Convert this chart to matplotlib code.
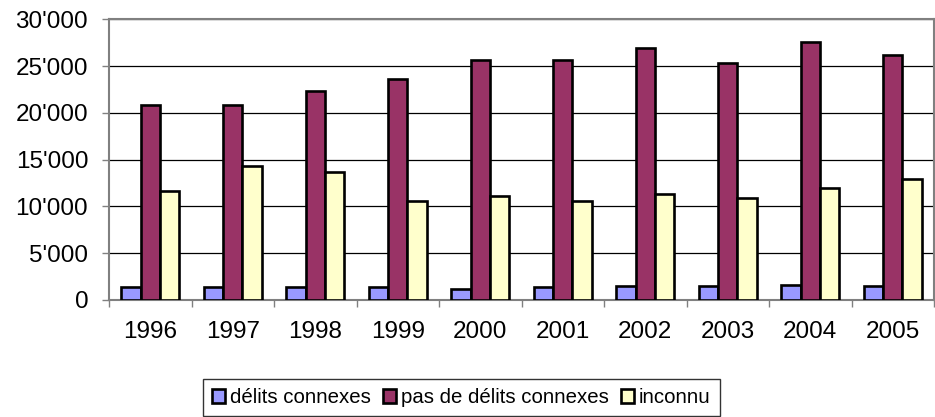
import numpy as np
import matplotlib.pyplot as plt
from matplotlib.ticker import FuncFormatter

plt.rcParams['font.family'] = ['Liberation Sans', 'DejaVu Sans']

# data
years = ['1996', '1997', '1998', '1999', '2000', '2001', '2002', '2003', '2004', '2005']
connexes = [1350, 1420, 1350, 1420, 1220, 1420, 1460, 1460, 1640, 1530]
pas_connexes = [20850, 20850, 22300, 23650, 25700, 25650, 27000, 25300, 27600, 26180]
inconnu = [11680, 14280, 13650, 10580, 11070, 10580, 11390, 10960, 11960, 12930]

labels = ['délits connexes', 'pas de délits connexes', 'inconnu']
colors = ['#9999FF', '#993366', '#FFFFCC']

fig = plt.figure(figsize=(9.35, 4.17), dpi=100)
ax = fig.add_axes([109 / 935, 1 - 300 / 417, 825 / 935, 280.5 / 417])

x = np.arange(len(years))
w = 0.235
for j, (vals, lab, col) in enumerate(zip([connexes, pas_connexes, inconnu], labels, colors)):
    ax.bar(x + (j - 1) * w, vals, width=w, color=col, edgecolor='black',
           linewidth=1.9, label=lab, zorder=3)

ax.set_xlim(-0.5, len(years) - 0.5)
ax.set_ylim(0, 30000)
ax.set_yticks(np.arange(0, 30001, 5000))
ax.yaxis.set_major_formatter(FuncFormatter(lambda v, p: f"{int(v):,}".replace(',', "'")))
ax.yaxis.grid(True, color='black', linewidth=0.9, zorder=0)
ax.set_axisbelow(True)

ax.set_xticks(x)
ax.set_xticklabels(years)
ax.set_xticks(np.arange(-0.5, len(years)), minor=True)
ax.tick_params(axis='x', which='major', length=0, pad=15, labelsize=17.5)
ax.tick_params(axis='x', which='minor', length=5, width=1, color='#808080')
ax.tick_params(axis='y', length=5, width=1, color='#808080', pad=10, labelsize=17.5)

for s in ax.spines.values():
    s.set_color('#808080')
    s.set_linewidth(1.5)

fig.legend(loc='upper left', bbox_to_anchor=(203 / 935, 1 - 379 / 417), ncol=3,
           frameon=True, fancybox=False, edgecolor='black', fontsize=14.7,
           handlelength=0.62, handleheight=0.62, handletextpad=0.25,
           columnspacing=0.6, borderaxespad=0, borderpad=0.45)

fig.savefig('out.png', dpi=100)
